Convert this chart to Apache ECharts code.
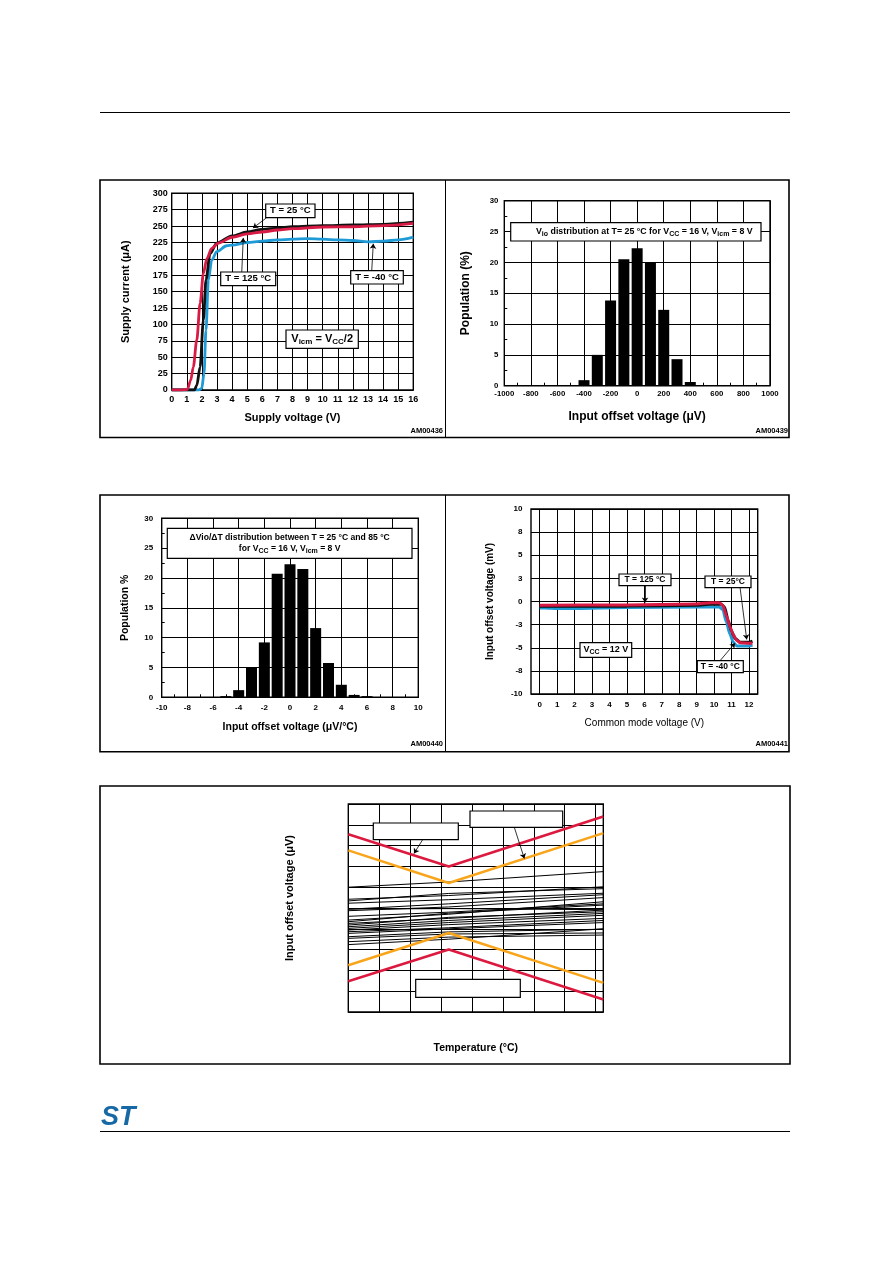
<!DOCTYPE html>
<html><head><meta charset="utf-8">
<script src="https://cdn.jsdelivr.net/npm/echarts@6/dist/echarts.min.js"></script>
<style>html,body{margin:0;padding:0;background:#fff}#c{width:892px;height:1263px}</style>
</head><body><div id="c"></div>
<script>
// ---------- Chart 1: supply current vs supply voltage ----------
const c1_vT25  = [0,1,1.5,1.66,1.88,2.1,2.27,2.54,2.98,4,5,6,7,8,10,12,14,16];
const c1_iT25  = [0,0,0,7,35,107,168,208,224,235,241,245,247,249,250.6,251.7,252.7,256];
const c1_vT125 = [0,0.66,1.04,1.26,1.43,1.66,1.88,2.1,2.32,2.65,3.09,4,5,6,7,8,10,12,14,16];
const c1_iT125 = [0,0,1,15,35,76,132,178,200,216,224,233,238,241,244,246,248.6,249,250.6,254];
const c1_vTm40 = [0,1.8,1.99,2.14,2.27,2.43,2.65,2.98,3.64,4,5,6,7,8,9,10,11,12,13,14,15,16];
const c1_iTm40 = [0,0,2.5,25,91,168,198,211,220,221,225,227,229,230,231,230,229,228,226,227,229,233];

// ---------- Chart 2: Vio distribution ----------
const c2_bins = [-400,-300,-200,-100,0,100,200,300,400];
const c2_pop  = [0.9,5.0,13.8,20.5,22.3,20.0,12.3,4.3,0.6];

// ---------- Chart 3: dVio/dT distribution ----------
const c3_bins = [-5,-4,-3,-2,-1,0,1,2,3,4,5,6];
const c3_pop  = [0.2,1.2,5.0,9.2,20.7,22.3,21.5,11.6,5.75,2.1,0.4,0.2];

// ---------- Chart 4: Vio vs common mode voltage ----------
const c4_xT125 = [0,5,9,9.8,10.3,10.5,10.7,10.9,11.1,11.3,11.5,12,12.2];
const c4_yT125 = [-0.4,-0.38,-0.27,-0.13,-0.13,-0.4,-1.5,-2.7,-3.6,-4.2,-4.45,-4.5,-4.5];
const c4_xT25  = [0,5,9,9.8,10.4,10.6,10.8,11.0,11.2,11.5,12,12.2];
const c4_yT25  = [-0.5,-0.5,-0.4,-0.3,-0.3,-0.6,-2.0,-3.2,-4.0,-4.4,-4.4,-4.3];
const c4_xTm40 = [0,0.3,1,2,5,9,10.3,10.5,10.7,10.9,11.1,11.3,12,12.2];
const c4_yTm40 = [-0.7,-0.7,-0.75,-0.75,-0.65,-0.6,-0.6,-0.9,-2.2,-3.5,-4.4,-4.8,-4.8,-4.7];
const c4_xTicks = [0,1,2,3,4,5,6,7,8,9,10,11,12];
const c4_yTicks = [-10,-7.5,-5,-2.5,0,2.5,5,7.5,10];
const c4_yTickLabels = ['-10','-8','-5','-3','0','3','5','8','10'];

// ---------- Chart 5: Vio vs temperature ----------
const c5_temps = [-40, 25, 125];
const c5_redUpper    = [355, 200, 440];
const c5_orangeUpper = [277, 120, 360];
const c5_orangeLower = [-275, -120, -360];
const c5_redLower    = [-352, -200, -440];
const c5_parts = [
  [100,125,175],[42,60,102],[34,70,93],[23,40,71],[-6,20,64],[-13,5,50],
  [-58,-30,30],[-66,-25,14],[-74,-50,-10],[-82,-45,-18],[-90,-60,-26],
  [-98,-70,-35],[-106,-80,-50],[-114,-95,-60],[-122,-100,-70],[-138,-115,-102],
  [-146,-125,-120],[-162,-140,-130],[-176,-150,-100],[-5,-3,-8],[-40,-20,20]
];

const F = "'Liberation Sans', Arial, Helvetica, sans-serif";
const zip = (xs, ys) => xs.map((x, i) => [x, ys[i]]);

function mkAxis(o) {
  const a = {
    type: 'value', gridIndex: o.g, min: o.min, max: o.max,
    axisLine: { show: false, onZero: false },
    axisTick: { show: false, inside: true },
    splitLine: { show: true, lineStyle: { color: '#000', width: 1 } },
    axisLabel: { show: o.labels !== false, color: '#000', fontFamily: F, fontWeight: 'bold', fontSize: o.fs || 8, margin: o.margin || 5,
                 formatter: v => String(v) },
    name: o.name || '', nameLocation: 'middle', nameGap: o.gap || 20,
    nameTextStyle: { color: '#000', fontFamily: F, fontWeight: o.nw || 'bold', fontSize: o.nfs || 11, padding: o.npad || 0 }
  };
  if (o.interval != null) a.interval = o.interval;
  if (o.formatter) a.axisLabel.formatter = o.formatter;
  if (o.custom) { a.axisLabel.customValues = o.custom; a.axisTick.customValues = o.custom; }
  if (o.minor) a.minorTick = { show: true, splitNumber: 2, length: 3, lineStyle: { color: '#000', width: 1 } };
  return a;
}

function gridBox(left, top, width, height) {
  return { left, top, width, height, show: true, borderColor: '#000', borderWidth: 1.4,
           backgroundColor: 'transparent', containLabel: false, outerBoundsMode: 'none' };
}

function leader(lines) {
  return {
    silent: true, symbol: ['none', 'arrow'], symbolSize: 5, animation: false,
    label: { show: false },
    lineStyle: { color: '#000', width: 0.8, type: 'solid' },
    emphasis: { disabled: true },
    data: lines.map(l => [{ coord: [l[0], l[1]] }, { coord: [l[2], l[3]] }])
  };
}

function lineSeries(xi, data, color, width, extra) {
  return Object.assign({
    type: 'line', xAxisIndex: xi, yAxisIndex: xi, data, showSymbol: false, symbol: 'none',
    lineStyle: { color, width }, itemStyle: { color }, animation: false, silent: true
  }, extra || {});
}

function boxRect(x, y, w, h) {
  return { type: 'rect', z: 20, shape: { x, y, width: w, height: h }, style: { fill: '#fff', stroke: '#000', lineWidth: 1.2 } };
}
function boxText(x, y, text, o) {
  o = o || {};
  const fs = o.fs || 9;
  const rich = { s: { fontSize: o.sfs || Math.round(fs * 0.72 * 10) / 10, padding: [5, 0, 0, 0],
                      fontFamily: F, fontWeight: 'bold', fill: '#000' } };
  const st = { text, rich, fill: '#000', fontFamily: F, fontSize: fs, fontWeight: 'bold',
               align: o.align || 'center', verticalAlign: 'middle' };
  if (o.lh) st.lineHeight = o.lh;
  return { type: 'text', z: 21, x, y, style: st };
}
function box(x, y, w, h, text, o) {
  o = o || {};
  const els = [boxRect(x, y, w, h)];
  if (text) els.push(boxText(o.tx != null ? o.tx : x + w / 2, y + h / 2, text, o));
  return els;
}

const amFont = 'bold 7.5px ' + F;
const graphics = [
  { type: 'line', shape: { x1: 100, y1: 112.5, x2: 790, y2: 112.5 }, style: { stroke: '#000', lineWidth: 1 } },
  { type: 'line', shape: { x1: 100, y1: 1131.5, x2: 790, y2: 1131.5 }, style: { stroke: '#000', lineWidth: 1 } },
  { type: 'rect', shape: { x: 100, y: 180, width: 689, height: 257.5 }, style: { fill: 'none', stroke: '#000', lineWidth: 1.6 } },
  { type: 'line', shape: { x1: 445.5, y1: 180, x2: 445.5, y2: 437.5 }, style: { stroke: '#000', lineWidth: 1 } },
  { type: 'rect', shape: { x: 100, y: 495, width: 689, height: 256.7 }, style: { fill: 'none', stroke: '#000', lineWidth: 1.6 } },
  { type: 'line', shape: { x1: 445.5, y1: 495, x2: 445.5, y2: 751.7 }, style: { stroke: '#000', lineWidth: 1 } },
  { type: 'rect', shape: { x: 100, y: 786, width: 690, height: 278 }, style: { fill: 'none', stroke: '#000', lineWidth: 1.6 } },
  { type: 'text', x: 443, y: 430.5, style: { text: 'AM00436', align: 'right', verticalAlign: 'middle', fill: '#000', font: amFont } },
  { type: 'text', x: 788, y: 430.5, style: { text: 'AM00439', align: 'right', verticalAlign: 'middle', fill: '#000', font: amFont } },
  { type: 'text', x: 443, y: 744, style: { text: 'AM00440', align: 'right', verticalAlign: 'middle', fill: '#000', font: amFont } },
  { type: 'text', x: 788, y: 744, style: { text: 'AM00441', align: 'right', verticalAlign: 'middle', fill: '#000', font: amFont } },
  { type: 'text', x: 101, y: 1104, style: { text: 'ST', fill: '#1769a6', font: 'italic bold 27px ' + F } },
  // chart 1 boxes
  ...box(265.7, 204, 49.3, 13.7, 'T = 25 °C', { fs: 9.5 }),
  ...box(220.7, 272, 55, 13.7, 'T = 125 °C', { fs: 9.5 }),
  ...box(350.7, 270.7, 52.6, 13.3, 'T = -40 °C', { fs: 9.5 }),
  ...box(286, 330, 72.3, 18.3, 'V{s|icm} = V{s|CC}/2', { fs: 11, sfs: 8 }),
  // chart 2 box
  ...box(510.7, 222.7, 250.3, 18.3, 'V{s|io} distribution at T= 25 °C for V{s|CC} = 16 V, V{s|icm} = 8 V', { fs: 8.8, sfs: 7, align: 'left', tx: 536 }),
  // chart 3 box
  ...box(167.3, 528.3, 244.7, 30, 'ΔVio/ΔT distribution between T = 25 °C and 85 °C\nfor V{s|CC} = 16 V, V{s|icm} = 8 V', { fs: 8.6, sfs: 7, lh: 11 }),
  // chart 4 boxes
  ...box(619, 574, 52, 11.7, 'T = 125 °C', { fs: 8.5 }),
  ...box(705, 576, 46, 11.7, 'T = 25°C', { fs: 8.5 }),
  ...box(697.3, 660.7, 46, 12, 'T = -40 °C', { fs: 8.5 }),
  ...box(580, 642.7, 51.7, 14.6, 'V{s|CC} = 12 V', { fs: 9, sfs: 7 }),
  // chart 5 (empty) boxes
  ...box(373.3, 823, 85, 16.7, ''),
  ...box(470, 811, 92.7, 16.3, ''),
  ...box(415.7, 979.3, 104.6, 18, '')
];

const series = [
  // chart 1
  lineSeries(0, zip(c1_vTm40, c1_iTm40), '#1e9ad6', 2.8, { smooth: 0.3, smoothMonotone: 'x' }),
  lineSeries(0, zip(c1_vT25, c1_iT25), '#111111', 2.8, { smooth: 0.3, smoothMonotone: 'x',
    markLine: leader([[6.29, 262.8, 5.38, 247], [4.64, 180, 4.74, 232], [13.25, 183, 13.35, 223]]) }),
  lineSeries(0, zip(c1_vT125, c1_iT125), '#d81b45', 2.8, { smooth: 0.3, smoothMonotone: 'x' }),
  // chart 2
  { type: 'bar', xAxisIndex: 1, yAxisIndex: 1, data: zip(c2_bins, c2_pop), barWidth: 11,
    itemStyle: { color: '#000' }, animation: false, silent: true },
  // chart 3
  { type: 'bar', xAxisIndex: 2, yAxisIndex: 2, data: zip(c3_bins, c3_pop), barWidth: 11,
    itemStyle: { color: '#000' }, animation: false, silent: true },
  // chart 4
  lineSeries(3, zip(c4_xTm40, c4_yTm40), '#1e9ad6', 3, { smooth: 0.2, smoothMonotone: 'x' }),
  lineSeries(3, zip(c4_xT25, c4_yT25), '#111111', 3, { smooth: 0.2, smoothMonotone: 'x',
    markLine: leader([[6.04, 1.78, 6.04, -0.1], [11.49, 1.49, 11.87, -4.1], [10.34, -6.4, 11.2, -4.5]]) }),
  lineSeries(3, zip(c4_xT125, c4_yT125), '#d81b45', 3, { smooth: 0.2, smoothMonotone: 'x' })
];
// chart 5 part lines
c5_parts.forEach(p => series.push(lineSeries(4, zip(c5_temps, p), '#000', 1)));
series.push(lineSeries(4, zip(c5_temps, c5_orangeUpper), '#f9a51c', 2.6));
series.push(lineSeries(4, zip(c5_temps, c5_orangeLower), '#f9a51c', 2.6));
series.push(lineSeries(4, zip(c5_temps, c5_redUpper), '#dc1a3f', 2.6, {
  markLine: leader([[8.1, 328, 2.5, 262], [67.4, 388, 73.9, 238]]) }));
series.push(lineSeries(4, zip(c5_temps, c5_redLower), '#dc1a3f', 2.6));

const option = {
  backgroundColor: '#fff',
  animation: false,
  grid: [
    gridBox(171.7, 193.3, 241.6, 196.7),
    gridBox(504.3, 200.7, 265.7, 185),
    gridBox(161.7, 518.3, 256.6, 179),
    gridBox(531, 509, 226.7, 185),
    gridBox(348.3, 804, 255, 208)
  ],
  xAxis: [
    mkAxis({ g: 0, min: 0, max: 16, interval: 1, name: 'Supply voltage (V)', gap: 22, nfs: 11, fs: 9, margin: 5 }),
    mkAxis({ g: 1, min: -1000, max: 1000, interval: 200, name: 'Input offset voltage (μV)', gap: 25, nfs: 12, fs: 7.8, margin: 4, minor: true }),
    mkAxis({ g: 2, min: -10, max: 10, interval: 2, name: 'Input offset voltage (μV/°C)', gap: 24, nfs: 10.5, fs: 8, margin: 6, minor: true }),
    mkAxis({ g: 3, min: -0.5, max: 12.5, custom: c4_xTicks, name: 'Common mode voltage (V)', gap: 24, nfs: 10, nw: 'normal', fs: 8, margin: 7 }),
    mkAxis({ g: 4, min: -40, max: 125, interval: 20, labels: false, name: 'Temperature (°C)', gap: 31, nfs: 10.5 })
  ],
  yAxis: [
    mkAxis({ g: 0, min: 0, max: 300, interval: 25, name: 'Supply current (μA)', gap: 40, nfs: 11, fs: 9, margin: 4 }),
    mkAxis({ g: 1, min: 0, max: 30, interval: 5, name: 'Population (%)', gap: 33, nfs: 12, fs: 7.8, margin: 6, minor: true }),
    mkAxis({ g: 2, min: 0, max: 30, interval: 5, name: 'Population %', gap: 31, nfs: 10.5, fs: 8, margin: 8.5, minor: true }),
    mkAxis({ g: 3, min: -10, max: 10, interval: 2.5, name: 'Input offset voltage (mV)', gap: 36, nfs: 10, fs: 8, margin: 8.5,
             formatter: v => { const i = c4_yTicks.indexOf(v); return i >= 0 ? c4_yTickLabels[i] : String(v); } }),
    mkAxis({ g: 4, min: -500, max: 500, interval: 100, labels: false, name: 'Input offset voltage (μV)', gap: 53, nfs: 11, npad: [0, 0, 0, 20] })
  ],
  series,
  graphic: { elements: graphics }
};

const chart = echarts.init(document.getElementById('c'), null, { renderer: 'canvas', width: 892, height: 1263 });
chart.setOption(option);
</script>
</body></html>
